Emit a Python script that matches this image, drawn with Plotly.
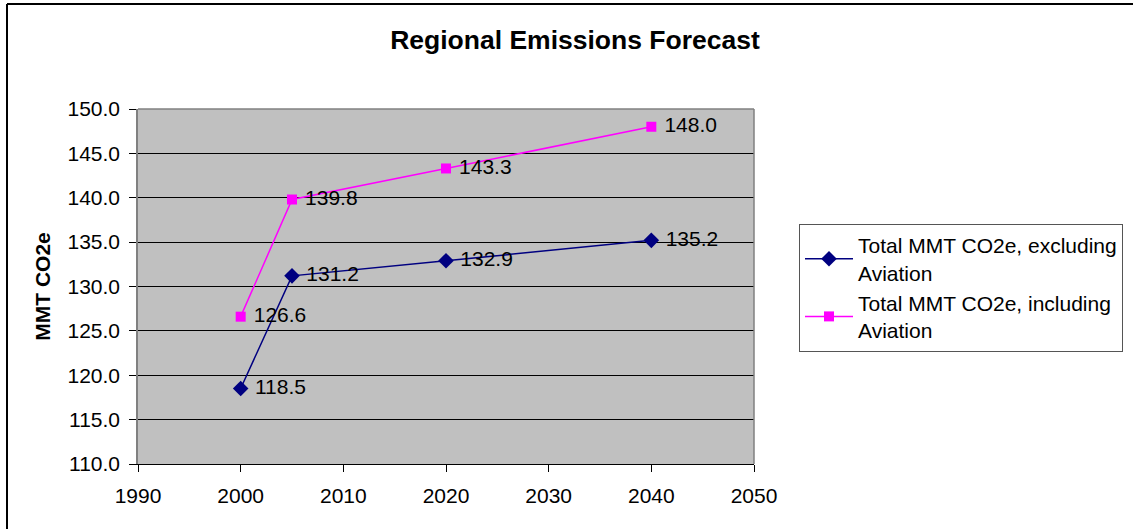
import plotly.graph_objects as go

years = [2000, 2005, 2020, 2040]
excl_aviation = [118.5, 131.2, 132.9, 135.2]
incl_aviation = [126.6, 139.8, 143.3, 148.0]
y_ticks = [110, 115, 120, 125, 130, 135, 140, 145, 150]
x_ticks = [1990, 2000, 2010, 2020, 2030, 2040, 2050]

W, H = 1133, 529
PL, PR, PT, PB = 138, 754, 109, 464          # plot area edges in pixels
PW, PH = PR - PL, PB - PT
FONT = "Liberation Sans, Arial, sans-serif"
PAD = "\u00a0"


def px_x(px):
    return (px - PL) / PW


def px_y(py):
    return (PB - py) / PH


fig = go.Figure()
fig.add_trace(go.Scatter(
    x=years, y=excl_aviation, mode="lines+markers+text",
    name="Total MMT CO2e, excluding<br>Aviation",
    line=dict(color="#000080", width=1.5),
    marker=dict(symbol="diamond", size=12, color="#000080"),
    text=[PAD + f"{v:.1f}" for v in excl_aviation], textposition="middle right",
    textfont=dict(size=21, color="black", family=FONT),
))
fig.add_trace(go.Scatter(
    x=years, y=incl_aviation, mode="lines+markers+text",
    name="Total MMT CO2e, including<br>Aviation",
    line=dict(color="#FF00FF", width=1.5),
    marker=dict(symbol="square", size=10, color="#FF00FF"),
    text=[PAD + f"{v:.1f}" for v in incl_aviation], textposition="middle right",
    textfont=dict(size=21, color="black", family=FONT),
))

fig.update_layout(
    width=W, height=H,
    margin=dict(l=PL, r=W - PR, t=PT, b=H - PB, autoexpand=False),
    paper_bgcolor="white", plot_bgcolor="#C0C0C0",
    font=dict(family=FONT, size=21, color="black"),
    title=dict(text="<b>Regional Emissions Forecast</b>", x=575 / W, xanchor="center",
               y=1 - 40 / H, yanchor="middle", font=dict(size=26.5)),
    showlegend=True,
    legend=dict(x=px_x(799), y=px_y(224), xanchor="left", yanchor="top",
                bgcolor="white", bordercolor="#555555", borderwidth=1,
                font=dict(size=21), itemwidth=48),
    xaxis=dict(range=[1990, 2050], tickvals=x_ticks, showgrid=False,
               showline=True, linecolor="black", linewidth=1,
               ticks="outside", ticklen=7, tickcolor="black", zeroline=False,
               ticklabelstandoff=6, tickfont=dict(size=21)),
    yaxis=dict(range=[110, 150], tickvals=y_ticks, tickformat=".1f",
               showgrid=True, gridcolor="black", gridwidth=1,
               showline=True, linecolor="#808080", linewidth=1.5,
               ticks="outside", ticklen=7, tickcolor="black", zeroline=False,
               ticklabelstandoff=5, tickfont=dict(size=21),
               title=dict(text="<b>MMT CO2e</b>", font=dict(size=21), standoff=11)),
    shapes=[
        # outer chart frame (left and top edges)
        dict(type="line", xref="paper", yref="paper", x0=px_x(7), x1=px_x(W),
             y0=px_y(4), y1=px_y(4), line=dict(color="black", width=2)),
        dict(type="line", xref="paper", yref="paper", x0=px_x(7), x1=px_x(7),
             y0=px_y(4), y1=px_y(H), line=dict(color="black", width=2)),
        # plot area border on right and top
        dict(type="line", xref="paper", yref="paper", x0=1, x1=1, y0=0, y1=1,
             line=dict(color="#808080", width=1.5)),
        dict(type="line", xref="paper", yref="paper", x0=0, x1=1, y0=1, y1=1,
             line=dict(color="#808080", width=1.5)),
    ],
)

fig.write_html("out.html")
